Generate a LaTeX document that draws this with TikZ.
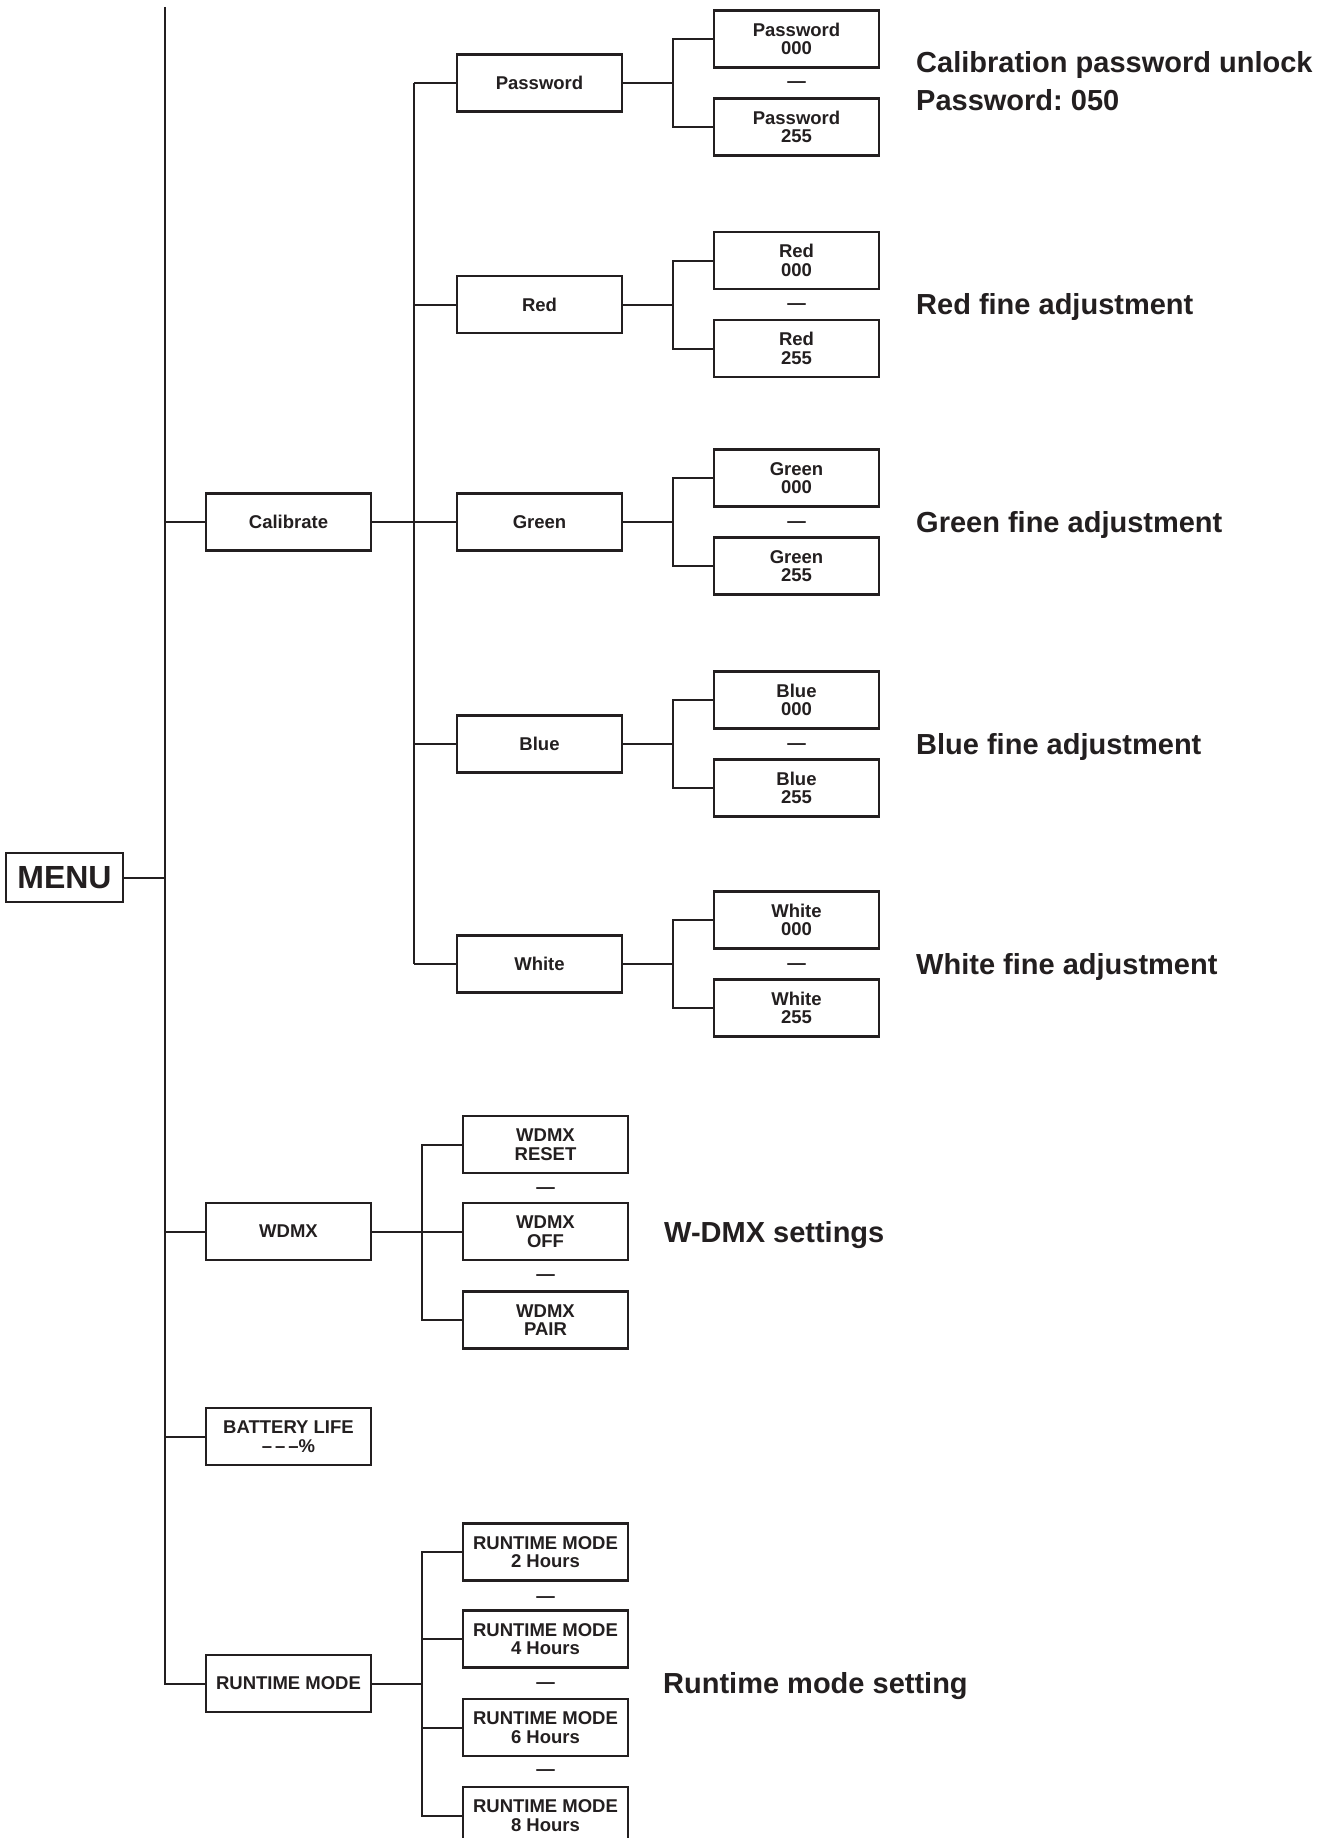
\documentclass[tikz,border=0pt]{standalone}
\usepackage{fontspec}
\setmainfont{Liberation Sans}
\frenchspacing
\definecolor{ink}{RGB}{35,31,32}
\tikzset{
  box/.style={draw=ink, line width=2.2pt, minimum width=165pt, minimum height=57pt,
    inner sep=0pt, align=center, text=ink, font=\bfseries\fontsize{18.5}{18.7}\selectfont},
  wire/.style={draw=ink, line width=2pt},
  note/.style={anchor=base west, inner sep=0pt, align=left, text=ink,
    font=\bfseries\fontsize{29}{38}\selectfont},
  sepmark/.style={anchor=base, inner sep=0pt, text=ink, font=\bfseries\fontsize{18.5}{18.7}\selectfont},
}
\begin{document}
\begin{tikzpicture}[x=1pt, y=-1pt]
\fill[white] (0,0) rectangle (1322,1838);
\useasboundingbox (0,0) rectangle (1322,1838);
\clip (0,0) rectangle (1322,1838);

% root
\node[box, minimum width=117pt, minimum height=49pt, font=\bfseries\fontsize{32}{36}\selectfont] (menu) at (64.5,877.5) {MENU};
\coordinate (maintop) at (165,7);

% level 1
\node[box] (cal) at (288.5,522) {Calibrate};
\node[box] (wd)  at (288.5,1231.5) {WDMX};
\node[box] (bat) at (288.5,1436.5) {BATTERY LIFE\\–\kern3pt–\kern3pt–\%};
\node[box] (run) at (288.5,1683.5) {RUNTIME MODE};

\draw[wire] (maintop) -- (run.west -| maintop) -- (run.west);
\draw[wire] (menu.east) -- (menu.east -| maintop);
\draw[wire] (cal.west -| maintop) -- (cal.west);
\draw[wire] (wd.west -| maintop) -- (wd.west);
\draw[wire] (bat.west -| maintop) -- (bat.west);

% calibrate branch
\coordinate (calbus) at (414,522);
\foreach \n/\t/\y in {pw/Password/83, red/Red/304.5, grn/Green/522, blu/Blue/744, wht/White/964}{
  \node[box] (\n) at (539.5,\y) {\t};
  \node[box] (\n-a) at (796.5,\y-44) {\t\\000};
  \node[box] (\n-b) at (796.5,\y+44) {\t\\255};
  \node[sepmark] (\n-s) at (796.5,\y+5) {—};
  \coordinate (\n-bus) at (673,\y);
  \draw[wire] (\n.east) -- (\n-bus);
  \draw[wire] (\n-a.west) -- (\n-a.west -| \n-bus) -- (\n-b.west -| \n-bus) -- (\n-b.west);
  \draw[wire] (\n.west -| calbus) -- (\n.west);
}
\draw[wire] (cal.east) -- (calbus);
\draw[wire] (pw.west -| calbus) -- (wht.west -| calbus);

% notes
\node[note] (npw) at (916,111) {Calibration password unlock\\Password: 050};
\node[note] (nred) at (916,314.5) {Red fine adjustment};
\node[note] (ngrn) at (916,532) {Green fine adjustment};
\node[note] (nblu) at (916,754) {Blue fine adjustment};
\node[note] (nwht) at (916,974) {White fine adjustment};

% WDMX branch
\coordinate (wdbus) at (422,1231.5);
\node[box] (wr) at (545.5,1144.5) {WDMX\\RESET};
\node[box] (wo) at (545.5,1231.5) {WDMX\\OFF};
\node[box] (wp) at (545.5,1320) {WDMX\\PAIR};
\node[sepmark] (ws1) at (545.5,1193) {—};
\node[sepmark] (ws2) at (545.5,1280) {—};
\draw[wire] (wd.east) -- (wo.west);
\draw[wire] (wr.west) -- (wr.west -| wdbus) -- (wp.west -| wdbus) -- (wp.west);
\node[note] (nwd) at (664,1242.5) {W-DMX settings};

% runtime branch
\coordinate (runbus) at (422,1683.5);
\node[box] (r2) at (545.5,1552) {RUNTIME MODE\\2 Hours};
\node[box] (r4) at (545.5,1639) {RUNTIME MODE\\4 Hours};
\node[box] (r6) at (545.5,1727.5) {RUNTIME MODE\\6 Hours};
\node[box] (r8) at (545.5,1815.5) {RUNTIME MODE\\8 Hours};
\node[sepmark] (rs1) at (545.5,1602) {—};
\node[sepmark] (rs2) at (545.5,1688) {—};
\node[sepmark] (rs3) at (545.5,1775) {—};
\draw[wire] (run.east) -- (runbus);
\draw[wire] (r2.west) -- (r2.west -| runbus) -- (r8.west -| runbus) -- (r8.west);
\draw[wire] (r4.west -| runbus) -- (r4.west);
\draw[wire] (r6.west -| runbus) -- (r6.west);
\node[note] (nrun) at (663,1693.5) {Runtime mode setting};
\end{tikzpicture}
\end{document}
